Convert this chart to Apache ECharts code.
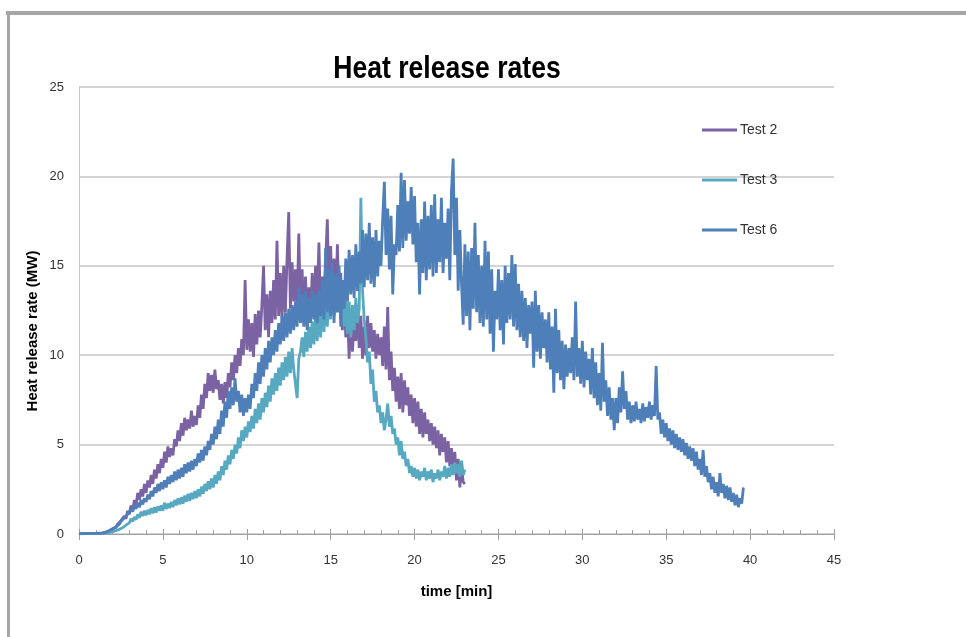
<!DOCTYPE html>
<html>
<head>
<meta charset="utf-8">
<script src="https://cdn.jsdelivr.net/npm/echarts@6/dist/echarts.min.js"></script>
<style>
html,body{margin:0;padding:0;background:#fff;}
#chart{width:966px;height:637px;}
</style>
</head>
<body>
<div id="chart"></div>
<script>
// sampling interval of the recorded series (minutes)
const timeStep = 0.1;
const titleText = 'Heat release rates';
const yAxisTitle = 'Heat release rate (MW)';
const xAxisTitle = 'time [min]';
const seriesNames = ['Test 2', 'Test 3', 'Test 6'];
const xTicks = [0, 5, 10, 15, 20, 25, 30, 35, 40, 45];
const yTicks = [0, 5, 10, 15, 20, 25];

// Heat release rate (MW), one value per 0.1 min starting at t = 0 (one row per minute)
const test2 = [
  0.02,0.03,0.02,0.03,0.02,0.04,0.03,0.04,0.03,0.05,
  0.04,0.05,0.04,0.06,0.05,0.08,0.1,0.14,0.18,0.22,
  0.3,0.4,0.35,0.55,0.5,0.75,0.65,1.0,0.85,1.3,
  1.1,1.6,1.3,1.9,1.6,2.3,1.9,2.5,2.1,2.8,
  2.3,3.0,2.6,3.3,2.8,3.6,3.1,3.9,3.4,4.2,
  3.7,4.6,4.0,4.9,4.3,4.8,4.4,5.3,4.9,5.8,
  5.2,6.2,5.5,6.5,5.8,6.4,5.9,6.9,6.0,6.6,
  6.1,7.2,6.5,7.8,7.0,8.4,7.6,9.0,8.0,8.9,
  7.9,9.2,8.1,8.6,7.5,8.4,7.3,8.5,7.6,9.0,
  8.2,9.6,8.6,10.0,9.0,10.4,9.4,10.9,10.0,14.2,
  10.3,12.0,10.2,11.8,9.9,12.3,10.6,12.5,11.0,12.8,
  15.0,11.4,13.4,11.0,13.6,11.8,14.2,12.0,16.4,12.2,
  14.6,12.0,15.0,12.4,15.4,18.0,12.6,15.2,13.0,14.8,
  12.6,16.8,12.4,14.8,11.8,14.4,11.6,13.8,12.0,14.6,
  12.2,15.0,13.0,16.3,12.2,14.4,12.6,15.2,17.6,13.4,
  16.1,12.8,15.4,12.6,16.2,13.0,14.6,11.4,13.6,11.0,
  12.6,9.8,12.4,10.2,12.0,10.8,12.8,10.4,12.2,9.8,
  11.6,10.0,12.2,10.4,11.8,10.2,11.4,9.8,11.2,10.0,
  11.0,9.4,11.6,9.2,12.7,8.6,10.2,8.0,9.3,7.4,
  8.8,7.0,9.0,6.8,8.6,7.2,8.2,6.6,7.8,6.2,
  7.6,6.0,7.4,5.6,7.0,5.4,6.8,5.6,6.4,5.2,
  6.2,5.0,6.0,4.8,5.8,4.4,5.6,4.6,5.4,4.0,
  5.2,3.8,4.8,3.4,4.6,3.0,4.2,2.6,3.8,2.9,
  2.8
];
const test3 = [
  0.01,0.02,0.01,0.02,0.02,0.03,0.02,0.03,0.02,0.03,
  0.03,0.04,0.03,0.05,0.04,0.06,0.05,0.07,0.08,0.1,
  0.12,0.15,0.18,0.22,0.26,0.3,0.35,0.42,0.5,0.58,
  0.62,0.85,0.7,0.95,0.8,1.1,0.9,1.25,1.0,1.3,
  1.05,1.35,1.1,1.45,1.15,1.5,1.2,1.55,1.3,1.6,
  1.3,1.75,1.4,1.7,1.45,1.8,1.5,1.9,1.6,2.0,
  1.65,2.05,1.7,2.15,1.8,2.25,1.85,2.3,1.95,2.4,
  2.0,2.5,2.1,2.65,2.25,2.8,2.4,2.95,2.5,3.1,
  2.6,3.3,2.8,3.5,3.0,3.8,3.3,4.1,3.6,4.4,
  3.9,4.7,4.2,5.0,4.5,5.4,4.8,5.8,5.2,6.0,
  5.4,6.3,5.7,6.6,5.9,7.0,6.2,7.3,6.4,7.6,
  6.8,7.9,7.1,8.3,7.4,8.7,7.8,9.0,8.0,9.3,
  8.3,9.6,8.6,9.9,8.8,10.2,9.0,10.4,9.2,8.4,
  7.6,9.8,10.2,11.0,9.9,11.3,10.2,11.6,10.4,11.9,
  10.6,12.2,10.8,12.5,11.0,12.7,11.3,13.0,11.6,13.4,
  12.0,14.9,12.2,13.8,12.4,13.6,12.0,13.2,11.6,13.4,
  11.2,13.0,11.0,12.8,11.4,13.2,11.8,12.6,18.8,13.6,
  12.0,11.0,9.6,10.2,8.4,9.2,7.4,8.0,6.8,7.2,
  6.2,6.8,5.8,6.4,7.3,6.0,6.6,5.6,5.9,5.0,
  5.4,4.4,5.2,4.2,4.6,3.8,4.2,3.4,3.8,3.2,
  3.7,3.1,3.6,3.0,3.5,3.2,3.7,3.0,3.5,3.1,
  3.6,2.9,3.4,3.1,3.6,3.0,3.5,3.2,3.8,3.1,
  3.7,3.2,3.9,3.3,4.0,3.4,3.9,3.2,4.1,3.3,
  3.6
];
const test6 = [
  0.02,0.03,0.02,0.03,0.02,0.04,0.03,0.04,0.03,0.05,
  0.04,0.05,0.05,0.07,0.06,0.09,0.1,0.14,0.18,0.22,
  0.28,0.35,0.4,0.5,0.55,0.7,0.75,0.9,0.95,1.1,
  1.1,1.4,1.25,1.6,1.4,1.75,1.5,1.9,1.65,2.0,
  1.8,2.2,1.95,2.4,2.1,2.6,2.3,2.8,2.4,2.9,
  2.5,3.0,2.6,3.2,2.8,3.3,2.9,3.5,3.0,3.6,
  3.1,3.7,3.2,3.9,3.4,4.0,3.5,4.1,3.6,4.2,
  3.8,4.5,4.0,4.7,4.1,4.9,4.4,5.2,4.7,5.6,
  5.0,6.0,5.3,6.4,5.6,6.9,6.0,7.4,6.5,8.0,
  7.0,8.2,7.2,8.7,7.4,8.0,6.8,7.8,6.6,7.6,
  6.8,7.8,7.0,8.4,7.6,9.0,8.0,9.6,8.4,10.0,
  8.8,10.4,9.2,10.8,9.6,11.0,10.0,11.4,10.2,11.8,
  10.6,12.2,10.8,12.4,11.0,12.6,11.2,12.8,11.4,13.0,
  11.6,13.8,11.8,13.4,11.6,13.6,11.4,13.2,11.8,13.6,
  12.0,13.4,11.8,13.6,12.2,14.2,12.0,16.0,12.4,14.8,
  12.2,15.2,11.8,14.6,12.4,15.0,11.6,14.2,12.6,15.4,
  13.0,15.9,13.4,15.6,13.2,16.2,13.6,15.8,14.0,17.0,
  13.8,16.8,14.2,17.4,14.0,16.6,13.8,17.0,14.4,16.4,
  15.0,17.6,19.7,15.6,18.2,14.8,17.8,13.4,16.2,15.6,
  18.4,15.8,20.2,16.0,19.8,16.4,18.6,16.8,19.4,16.2,
  18.9,15.2,17.4,13.4,17.6,14.6,18.6,14.2,17.8,14.8,
  18.4,14.4,19.0,14.6,17.6,15.2,18.8,14.6,17.4,15.4,
  18.2,14.2,19.2,21.0,15.6,18.8,13.6,17.0,14.0,11.7,
  16.2,12.2,15.8,11.4,16.0,12.6,17.4,12.4,15.6,11.8,
  15.0,11.6,16.4,12.0,15.8,11.2,14.8,10.2,13.6,12.0,
  14.8,11.4,14.2,10.6,15.0,11.8,14.6,12.0,15.6,11.6,
  15.1,11.4,14.0,11.0,13.6,10.8,13.2,10.4,12.8,11.2,
  13.0,9.3,13.6,10.2,12.8,9.8,12.4,10.4,12.0,9.6,
  12.4,9.2,11.6,7.9,12.6,9.0,11.4,8.6,10.8,8.1,
  10.6,8.8,10.4,9.0,11.0,8.6,13.0,8.8,10.4,8.4,
  10.8,8.2,10.2,8.6,9.8,7.8,10.4,7.6,9.6,7.2,
  9.0,6.9,10.7,7.4,8.6,6.6,8.2,6.4,7.6,5.8,
  7.6,6.2,8.2,6.8,9.1,7.0,8.0,6.4,7.4,6.2,
  7.2,6.3,7.4,6.4,7.0,6.2,7.3,6.3,7.1,6.5,
  7.4,6.4,7.2,6.6,9.4,6.4,6.8,5.6,6.4,5.4,
  6.2,5.2,5.9,5.0,5.8,4.8,5.6,4.7,5.4,4.6,
  5.3,4.4,5.1,4.2,4.9,4.1,4.8,3.8,4.6,3.6,
  4.2,3.3,4.7,3.2,3.8,2.9,3.4,2.5,3.2,2.3,
  2.9,2.1,3.4,2.3,2.8,2.0,2.7,1.9,2.6,1.8,
  2.3,1.6,2.2,1.5,2.0,1.7,2.6
];

const colors = ['#7A62A3', '#57A9C2', '#4E7FB8'];
const FONT = "'Liberation Sans','Arial',sans-serif";

function toPairs(vals) {
  return vals.map((v, i) => [Math.round(i * timeStep * 1000) / 1000, v]);
}
const allSeries = [test2, test3, test6];

const chart = echarts.init(document.getElementById('chart'), null, {renderer: 'canvas'});
const xMin = xTicks[0], xMax = xTicks[xTicks.length - 1];
const yMin = yTicks[0], yMax = yTicks[yTicks.length - 1];

chart.setOption({
  animation: false,
  backgroundColor: '#fff',
  graphic: [
    {type: 'rect', shape: {x: 6, y: 11, width: 960, height: 4}, style: {fill: '#a6a6a6'}, silent: true},
    {type: 'rect', shape: {x: 7, y: 11, width: 3, height: 626}, style: {fill: '#a6a6a6'}, silent: true},
    {type: 'text', x: 447, y: 69, scaleX: 0.83, silent: true,
     style: {text: titleText, x: 0, y: 0, align: 'center', verticalAlign: 'middle',
             font: "bold 32px " + FONT, fill: '#000'}},
    {type: 'text', x: 33, y: 331, rotation: Math.PI / 2, silent: true,
     style: {text: yAxisTitle, x: 0, y: 0, align: 'center', verticalAlign: 'middle',
             font: "bold 15px " + FONT, fill: '#000'}}
  ],
  legend: {
    orient: 'vertical',
    left: 702,
    top: 123,
    padding: 0,
    itemGap: 36,
    itemWidth: 35,
    itemHeight: 3,
    icon: 'rect',
    data: seriesNames,
    textStyle: {fontFamily: FONT, fontSize: 14, color: '#333', padding: [0, 0, 0, -2]}
  },
  grid: {left: 79, right: 132, top: 87, bottom: 103, containLabel: false},
  xAxis: [{
    type: 'value',
    min: xMin, max: xMax, interval: 5,
    name: xAxisTitle,
    nameLocation: 'middle',
    nameGap: 50,
    nameTextStyle: {fontFamily: FONT, fontSize: 15, fontWeight: 'bold', color: '#000'},
    axisLine: {show: true, lineStyle: {color: '#a0a0a0', width: 1}},
    axisTick: {show: true, inside: true, length: 5, lineStyle: {color: '#a0a0a0'}},
    minorTick: {show: true, splitNumber: 5, length: 4, lineStyle: {color: '#a0a0a0'}},
    axisLabel: {margin: 20, fontFamily: FONT, fontSize: 13, color: '#333'},
    splitLine: {show: false}
  }, {
    type: 'value',
    position: 'bottom',
    min: xMin, max: xMax, interval: 5,
    axisLine: {show: false},
    axisTick: {show: true, inside: false, length: 6, lineStyle: {color: '#a0a0a0'}},
    axisLabel: {show: false},
    splitLine: {show: false}
  }],
  yAxis: {
    type: 'value',
    min: yMin, max: yMax, interval: 5,
    axisLine: {show: true, lineStyle: {color: '#c8c8c8', width: 1}},
    axisTick: {show: false},
    axisLabel: {margin: 15, fontFamily: FONT, fontSize: 13, color: '#333'},
    splitLine: {show: true, lineStyle: {color: '#d4d4d4', width: 2}}
  },
  series: allSeries.map((vals, k) => ({
    name: seriesNames[k],
    type: 'line',
    xAxisIndex: 0,
    data: toPairs(vals),
    showSymbol: false,
    symbol: 'none',
    lineStyle: {color: colors[k], width: 2.8},
    itemStyle: {color: colors[k]},
    z: 2 + k
  }))
});
</script>
</body>
</html>
